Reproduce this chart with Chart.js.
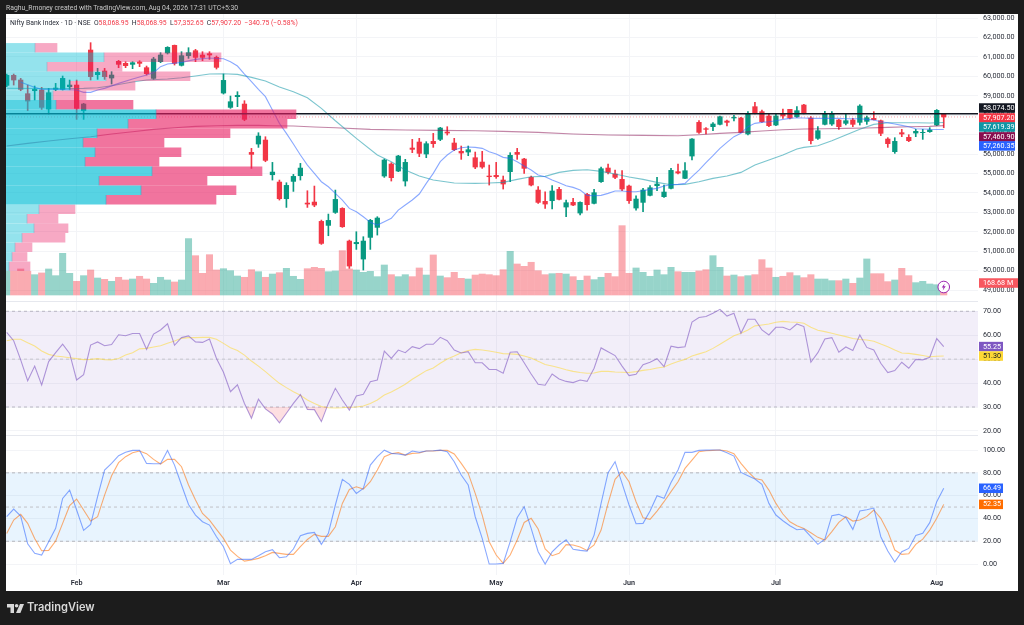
<!DOCTYPE html>
<html>
<head>
<meta charset="utf-8">
<title>Nifty Bank Index</title>
<script src="https://cdn.jsdelivr.net/npm/chart.js@4/dist/chart.umd.min.js"></script>
<style>
  html, body { margin: 0; padding: 0; background: #1c1c1c; }
  #page { position: relative; width: 1024px; height: 625px; overflow: hidden; background: #1c1c1c; font-family: Roboto, sans-serif; }
  #paper { position: absolute; left: 6px; top: 14px; width: 1012px; height: 577px; background: #fff; }
  canvas { position: absolute; left: 0; top: 0; }
  #credit { position: absolute; left: 6px; top: 3px; font-size: 6.8px; line-height: 10px; color: #c8c8c8; white-space: nowrap; }
  #legend { position: absolute; left: 10px; top: 18px; font-size: 6.8px; line-height: 11px; color: #2a2e39; white-space: nowrap; }
  #legend b { font-weight: 400; color: #f23645; }
  #brand { position: absolute; left: 27px; top: 599px; font-family: Inter, sans-serif; font-weight: 600; font-size: 11.1px; line-height: 17px; color: #d8d8d8; }
  #logo { position: absolute; left: 7px; top: 604px; }
</style>
</head>
<body>
<div id="page">
  <div id="paper"></div>
  <canvas id="main" width="1024" height="625"></canvas>
  <canvas id="profile" width="1024" height="625"></canvas>
  <div id="credit">Raghu_Rmoney created with TradingView.com, Aug 04, 2026 17:31 UTC+5:30</div>
  <div id="legend">Nifty Bank Index · 1D · NSE &nbsp;O<b>58,068.95</b> &nbsp;H<b>58,068.95</b> &nbsp;L<b>57,352.65</b> &nbsp;C<b>57,907.20</b> &nbsp;<b>−340.75 (−0.58%)</b></div>
  <svg id="logo" width="17" height="9" viewBox="0 0 17 9"><path fill="#d8d8d8" d="M0 0h7v9H3.5V3.4H0z"/><circle fill="#d8d8d8" cx="9.6" cy="1.8" r="1.8"/><path fill="#d8d8d8" d="M13 0h4l-3.6 9H9z"/></svg>
  <div id="brand">TradingView</div>
</div>
<script>
const opens = [59533,60048,59808,59104,59258,59293,58315,59327,59327,59464,59550,58229,61352,60082,60271,59911,60769,60666,60614,60734,60443,59893,60751,61198,61592,60563,61060,61318,61095,61163,60974,59138,58400,58950,58572,56084,56513,56719,54934,54557,53699,54591,54883,53476,53527,52532,52326,52995,53202,51520,51383,50594,51709,52224,54867,55485,55124,54609,56308,56617,56000,56651,56754,57132,56566,56137,56102,55810,55587,54867,54901,54661,55090,56085,55742,54798,54146,53563,53597,54180,53271,53511,52962,53923,53460,54575,55279,54970,54695,54352,53219,53511,53871,54369,53803,54232,55090,54747,55896,57629,57303,57406,57527,57698,57853,57853,57029,58436,58179,57956,57492,58093,58299,57921,58522,57853,56806,57527,57544,57750,57578,57750,57629,57681,57835,57715,56771,56119,57098,56857,57080,57098,57149,57492,58068.95];
const highs = [60116,60116,59893,59550,59499,59430,59379,59636,60014,59808,59808,58606,61730,60408,60408,60237,60820,60751,60751,60803,60528,60974,61215,61524,61609,61266,61472,61386,61266,61266,61043,60116,58984,59207,58744,56290,57096,56890,55569,54660,54522,54951,55518,54110,54351,52600,52909,54145,53236,51572,52001,51744,52636,52773,55742,55553,55931,55725,56754,56806,56634,57063,57372,57406,56806,56411,56411,56102,56137,55433,55570,54867,56068,56291,55776,54867,54318,54060,54369,54283,53631,53717,53545,53974,54180,55330,55485,55176,55141,54403,53854,54232,54369,54798,54403,55261,55485,55553,56789,57715,57355,57612,57956,57750,57990,57887,58179,58659,58264,58041,58041,58316,58299,58436,58556,57921,57406,58196,58179,57784,58093,57835,58539,57956,58179,57750,56840,56840,57269,56995,57269,57269,57355,58290,58068.95];
const lows = [59464,59550,59258,58229,58778,58297,58057,59258,59293,59327,57783,57783,59808,59842,59842,59602,60443,60443,60391,60494,60065,59842,60700,61146,60580,60528,60923,60751,60803,60871,60374,59087,58349,58435,57714,55260,56341,55603,54660,53630,53252,54076,54660,53252,53287,51348,51794,52944,52224,50113,51091,50028,51091,51829,54798,54609,55090,54352,56068,55862,55810,56342,56686,56977,56171,55725,55913,55244,55261,54403,54747,54197,54575,55725,55004,54352,53460,53202,53168,53631,52773,53340,52859,53116,53425,54541,54970,54729,54112,53460,53116,53031,53837,54112,53768,54197,54970,54729,55690,57063,57029,57200,57492,57441,57698,57098,56977,58058,57629,57406,57458,57835,57801,57887,58058,56514,56754,57492,57475,57269,57492,57406,57492,57527,57750,56943,56342,56034,56892,56634,56892,56754,57115,57458,57352.65];
const closes = [60048,59808,59327,58726,59327,58400,59156,59396,59893,59550,58349,58572,59979,60202,59979,60065,60614,60546,60700,60666,60134,60889,61095,61489,60666,61060,61215,60974,60974,61095,60460,59790,58692,59018,57783,55981,56925,55672,55071,53699,54385,54848,55277,53424,53373,51399,52583,53664,52258,50234,51452,51520,52585,52705,55690,54781,55896,55570,56240,56034,56531,56531,57338,57080,56222,56051,56222,55330,55330,54832,54832,54455,55931,55982,55261,54403,53511,53425,54095,53666,53494,53374,53511,53391,54009,55244,55055,54798,54197,53597,53683,54146,54266,54455,54043,55158,55021,55141,56771,57115,57269,57544,57921,57629,57887,57115,58058,58076,57664,57458,57956,57956,57853,58230,58127,56686,57200,58058,58093,57406,57715,57527,58470,57870,57767,57063,56531,56651,57029,56686,57166,57115,57235,58248,57907.2];
const volumes = [333,333,366,333,286,310,366,272,586,305,192,272,352,239,220,192,249,211,225,263,225,164,249,211,183,211,793,553,305,567,352,370,342,267,249,356,328,249,295,314,375,263,220,370,389,375,328,338,624,366,352,319,333,258,422,286,258,286,258,380,281,563,267,244,319,234,225,281,295,286,272,356,614,436,403,460,342,286,300,305,295,258,206,267,216,249,305,258,975,305,380,319,263,352,286,389,328,319,319,338,356,553,389,267,281,258,272,286,497,380,249,263,314,272,244,286,225,225,202,202,225,164,239,507,300,300,188,211,375,272,174,192,155,145,168.68];

const maFast = [null,null,59700,59560,59430,59327,null,59327,null,null,59293,59173,59173,59293,59379,null,59636,null,59859,null,60065,60185,60494,60631,null,60717,null,60871,null,60940,null,60906,60751,60528,60116,59722,59327,58950,58263,57577,57062,56513,55946,55432,55003,54574,54316,53973,53631,53202,53031,52773,52481,52344,52516,52688,53116,53374,53631,53940,54489,55004,55605,55948,56205,56325,56360,56342,56291,56119,56000,55828,55776,55605,55382,55176,54918,54832,54661,54523,54369,54283,54146,53871,53854,53871,53974,54095,54095,54060,54060,54112,54180,54232,54352,54421,54438,54489,54832,55176,55553,55913,56291,56600,56892,57063,57406,57578,57629,57664,57715,57784,57835,57870,57853,57835,57835,57835,57835,57835,57818,57818,57818,57784,57750,57664,57612,57544,57475,57406,57303,57289,57272,57265,57260.35];
const maMidBars = [0,5,11,13,15,18,20,23,25,27,29,31,33,35,37,39,41,43,45,47,50,53,55,57,59,61,64,67,69,71,73,75,77,79,81,83,85,87,89,91,93,95,97,99,101,103,105,107,109,111,113,114,116,118,120,122,124,126,128,130,132,134];
const maMid = [59385,59370,59379,59413,59516,59705,59808,59859,59928,60014,60116,60134,60099,59945,59756,59447,59207,58898,58349,57714,56806,55948,55605,55176,54867,54661,54506,54489,54506,54541,54695,54832,54850,55055,55158,55193,55107,54970,54815,54695,54541,54421,54438,54575,54747,54867,55055,55433,55690,55948,56257,56342,56428,56686,56977,57269,57526,57612,57612,57612,57595,57619.39];
const maSlowBars = [0,3,6,9,12,15,18,21,24,27,30,33,36,38,41,44,47,52,57,62,67,71,76,81,86,91,96,99,102,105,108,111,114,117,120,123,126,129,132,134];
const maSlow = [56410,56547,56667,56787,56890,57028,57148,57268,57354,57422,57457,57474,57474,57457,57440,57388,57354,57269,57235,57218,57200,57166,57115,57029,56977,56960,56943,56995,57063,57115,57183,57252,57286,57303,57321,57338,57372,57406,57424,57460.9];

const rsi = [61.2,57.7,49.7,41,47.1,39.2,49,52.7,56.3,52.4,41.3,43.5,55.9,57.2,55.6,56.1,60.2,59.8,60.7,60.7,54.1,60.5,62.2,64.8,55.8,59,59.7,57.2,57,58.4,50.3,44.5,36.4,39.3,31.5,25.3,33.3,29.2,27.1,23.4,27.4,31.5,35.2,29,28.9,23.9,31.5,37.8,32.9,28.7,34.6,35.3,40.6,41.3,53.4,50.3,53.8,52.7,55.2,54.4,56.2,56.2,59.1,57.7,53.8,52.6,53.1,48.5,48.5,45.7,45.7,44.1,52.9,53.1,48.5,43.8,39.5,39.1,43.8,41.7,40.7,40.2,41.3,40.7,46.2,54.7,53.1,51.5,47.1,43.1,43.7,47.7,48.7,50.2,46.9,55.4,54.8,55.2,65.5,67.4,67.8,69.2,70.8,68,69.2,60.8,66.7,66.7,62.2,60.1,63.3,63.3,62.2,64.7,63.6,48.7,52.7,58.4,59,52.9,55.1,53.6,60.1,54.9,53.8,48.3,44.4,45.2,48.7,46.2,49.9,49.7,50.8,58.6,55.25];
const rsiMa = [57.7,58.3,58.3,56.9,55.5,53.4,52,51.3,51,50.6,50.2,49.8,49.9,50.2,49.8,49.7,50.3,51.7,52.7,54.3,54.5,55.1,55.6,56.6,57.6,58.7,59,59,59.1,59.1,58.3,56.6,54.8,53.6,51.7,49.2,47.1,44.8,42.3,39.9,38.1,36.4,34.9,32.9,31.5,30.2,29.7,29.6,29.7,29.9,30,30.4,31.5,32.9,35,36.3,37.8,39.5,41.6,43.4,45.2,46.3,48.3,50.1,51.3,52.7,53.6,54.1,53.8,53.4,52.9,52.3,52.2,52,51.3,50.5,49.1,47.8,47.1,46.4,45.6,44.9,44.4,44.1,44.2,44.9,44.9,44.6,44.5,44.4,44.8,45.3,45.7,46.3,46.7,48,49,49.9,51.3,52.2,53.1,54.5,56.2,58,59.8,60.8,62.2,63.9,64.3,64.7,65.4,65.8,65.5,65.4,65,63.3,62.1,61.5,60.8,60.1,59.4,58.6,58.2,58,57.5,56.3,55.2,53.8,52.6,52.4,52,51.5,51,51.2,51.3];
const stochK = [41.5,48.2,42.1,17.8,9.4,7.9,19.6,31.3,57.6,64.9,47.4,29.5,34.8,59.1,82.5,88.3,95,98,99.7,99.7,88.3,88,88,99.7,86.8,69.3,52.3,43,37.1,34.2,24,15.2,0.3,4.1,4.1,4.1,7.3,10.8,12.6,5.6,6.4,13.2,24.9,26.9,27.8,17.3,26.9,51.8,74.3,69.9,62,66.4,86.8,94.2,99.9,97.1,96.5,95.6,99.1,98,99.1,99.4,99.9,98.5,89.8,78.1,69.3,41.5,22.5,0,0,0.6,19.6,40.6,50.3,31.3,10.8,0,10.8,16.7,21.3,12.9,12,11.4,25.4,53.2,80.1,89.8,70.8,51.8,35.4,35.7,46.5,59.9,57.6,71.6,82.5,98,98,99.7,99.9,100,100,97.7,94.7,80.4,77.5,74.6,69.9,53.2,43,38,33.6,30.1,30.7,24,17.3,21.9,42.4,43.6,40.9,30.4,46.5,47.7,49.1,24,11.4,1.8,10.8,13.7,25.1,26.9,36.3,54.7,66.49];
const stochD = [26.9,38.6,43.6,35.7,22.5,11.7,12,20.2,35.7,51.2,57,47.4,37.7,41.5,60.5,77.5,88.9,94.2,97.7,99.1,96.8,91.8,87.7,91.8,91.8,85.4,69.3,56.1,44.4,38.6,30.4,22.5,12.3,6.7,2.6,3.5,5,7.3,10.2,9.4,8.5,8.5,15.2,21.6,26,24.3,24.3,32.7,53.2,65.5,67.8,65.8,72.2,82.5,94.2,96.8,97.7,95.6,97.1,97.4,99.1,99.1,99.7,99.7,96.5,88.3,79.5,62,43,19.6,7.9,0.6,7.9,21.1,36.5,40.1,30.7,13.2,7.3,9.4,17,16.7,14.9,12,16.7,29.8,53.2,74.3,81,72.2,54.7,40.6,39.2,46.5,54.7,63.5,72.2,83.9,91.2,98.5,99.4,99.7,100,99.1,96.8,88.3,81,75.1,73.7,64.9,53.2,43.9,37.1,33.6,31.3,27.5,23.4,21.1,28.4,36.5,41.5,37.7,38.6,41.8,47.4,40.1,28.4,12.3,8.5,9.1,17.3,21.9,29.8,40.1,52.35];

const profilePrices = [61469,60980,60491,60002,59513,59024,58536,58047,57558,57069,56580,56091,55602,55113,54624,54135,53646,53157,52668,52179,51690,51201,50712,50223];
const profileUp = [29,98,41,100,64,47,50,150,122,91,77,89,79,146,93,135,100,33,21,28,16,9,6,3];
const profileDown = [22,117,75,84,65,33,77,140,159,133,81,86,74,110,108,95,110,36,31,34,43,17,15,21];

const monthBars = [10,31,50,70,89,110,133];
const monthNames = ['Feb','Mar','Apr','May','Jun','Jul','Aug'];
const priceTicks = [49000,50000,51000,52000,53000,54000,55000,56000,57000,58000,59000,60000,61000,62000,63000];
const rsiTicks = [20,30,40,50,60,70];
const stochTicks = [0,20,40,60,80,100];
const lastClose = 57907.2, prevHigh = 58074.5;

const UP = '#089981', DOWN = '#f23645';
const isUp = i => closes[i] >= opens[i];
const range = [-0.1, 138.9];

const hline = (v, axis, color, extra) => Object.assign({
  type: 'line', yAxisID: axis, borderColor: color, borderWidth: 1, pointRadius: 0,
  data: [{ x: range[0], y: v }, { x: range[1], y: v }]
}, extra);
const line = (points, axis, color, order) => ({
  type: 'line', yAxisID: axis, borderColor: color, borderWidth: 1.1, pointRadius: 0,
  tension: 0, spanGaps: true, order, data: points
});
const perBar = arr => arr.map((y, x) => ({ x, y }));
const zip = (xs, ys) => xs.map((x, i) => ({ x, y: ys[i] }));

// value tags on the right, price ones are pushed apart like the TradingView scale does
const tags = [
  { axis: 'yPrice', value: prevHigh, text: '58,074.50', bg: '#131722', fg: '#fff', w: 36, nudge: -5.7 },
  { axis: 'yPrice', value: lastClose, text: '57,907.20', bg: '#f23645', fg: '#fff', w: 36, nudge: 1 },
  { axis: 'yPrice', value: 57619.39, text: '57,619.39', bg: '#0f96a5', fg: '#fff', w: 36, nudge: 4.4 },
  { axis: 'yPrice', value: 57460.9, text: '57,460.90', bg: '#880e4f', fg: '#fff', w: 36, nudge: 11.3 },
  { axis: 'yPrice', value: 57260.35, text: '57,260.35', bg: '#2962ff', fg: '#fff', w: 36, nudge: 16.4 },
  { axis: 'yVol', value: 168.68, text: '168.68 M', bg: '#f7575f', fg: '#fff', w: 39, nudge: 0 },
  { axis: 'yRsi', value: 55.25, text: '55.25', bg: '#7e57c2', fg: '#fff', w: 24, nudge: 0 },
  { axis: 'yRsi', value: 51.3, text: '51.30', bg: '#fdd835', fg: '#131722', w: 24, nudge: 0 },
  { axis: 'yStoch', value: 66.49, text: '66.49', bg: '#2962ff', fg: '#fff', w: 24, nudge: 0 },
  { axis: 'yStoch', value: 52.35, text: '52.35', bg: '#ff6d00', fg: '#fff', w: 24, nudge: 0 }
];

const panesAndTags = {
  id: 'panesAndTags',
  beforeDatasetsDraw(chart) {
    const { ctx, chartArea, scales } = chart;
    ctx.save();
    ctx.strokeStyle = '#e6e8ee';
    ctx.lineWidth = 1;
    [scales.yRsi.top, scales.yStoch.top].forEach(y => {
      ctx.beginPath();
      ctx.moveTo(chartArea.left, Math.round(y) + 0.5);
      ctx.lineTo(chartArea.right, Math.round(y) + 0.5);
      ctx.stroke();
    });
    ctx.restore();
  },
  afterDraw(chart) {
    const { ctx, scales } = chart;
    ctx.save();
    ctx.font = '7.2px Roboto, sans-serif';
    ctx.textBaseline = 'middle';
    tags.forEach(t => {
      const y = scales[t.axis].getPixelForValue(t.value) + t.nudge;
      ctx.fillStyle = t.bg;
      ctx.fillRect(979, y - 4.75, t.w, 9.5);
      ctx.fillStyle = t.fg;
      ctx.textAlign = 'left';
      ctx.fillText(t.text, 983, y + 0.3);
    });
    // lightning badge on the last volume bar
    const bx = scales.x.getPixelForValue(134), by = 287;
    ctx.beginPath();
    ctx.arc(bx, by, 5.8, 0, Math.PI * 2);
    ctx.fillStyle = '#fff';
    ctx.fill();
    ctx.strokeStyle = '#9c27b0';
    ctx.lineWidth = 1;
    ctx.stroke();
    ctx.beginPath();
    ctx.moveTo(bx + 1, by - 3.6);
    ctx.lineTo(bx - 2, by + 0.6);
    ctx.lineTo(bx - 0.2, by + 0.6);
    ctx.lineTo(bx - 1, by + 3.6);
    ctx.lineTo(bx + 2, by - 0.8);
    ctx.lineTo(bx + 0.2, by - 0.8);
    ctx.closePath();
    ctx.fillStyle = '#9c27b0';
    ctx.fill();
    ctx.restore();
  }
};

const paneAxis = (weight, stackWeight, min, max, ticks, fmt) => ({
  type: 'linear', position: 'right', stack: 'panes', stackWeight, weight, min, max,
  border: { display: false },
  grid: { color: '#f3f4f7', drawTicks: false },
  afterBuildTicks: axis => { axis.ticks = ticks.map(value => ({ value })); },
  afterFit: axis => { axis.width = 40; axis.paddingTop = 0; axis.paddingBottom = 0; },
  ticks: { autoSkip: false, padding: 5, color: '#2a2e39', font: { family: 'Roboto, sans-serif', size: 7.2 }, callback: fmt }
});
const money = v => v.toLocaleString('en-US', { minimumFractionDigits: 2, maximumFractionDigits: 2 });

new Chart(document.getElementById('main'), {
  data: {
    datasets: [
      // oscillator bands
      hline(70, 'yRsi', 'rgba(0,0,0,0)', { order: 30, fill: { target: { value: 30 } }, backgroundColor: 'rgba(126,87,194,0.1)' }),
      hline(70, 'yRsi', '#b8b6c2', { order: 29, borderDash: [3, 3] }),
      hline(50, 'yRsi', '#c4c4cc', { order: 29, borderDash: [3, 3] }),
      hline(30, 'yRsi', '#b8b6c2', { order: 29, borderDash: [3, 3] }),
      hline(80, 'yStoch', 'rgba(0,0,0,0)', { order: 30, fill: { target: { value: 20 } }, backgroundColor: 'rgba(33,150,243,0.1)' }),
      hline(80, 'yStoch', '#b4b6bc', { order: 29, borderDash: [3, 3] }),
      hline(50, 'yStoch', '#c0c2c8', { order: 29, borderDash: [3, 3] }),
      hline(20, 'yStoch', '#b4b6bc', { order: 29, borderDash: [3, 3] }),
      // volume, wicks, bodies
      { type: 'bar', yAxisID: 'yVol', order: 20, grouped: false, barThickness: 6.4,
        backgroundColor: volumes.map((_, i) => isUp(i) ? 'rgba(8,153,129,0.42)' : 'rgba(242,54,69,0.42)'),
        data: perBar(volumes) },
      { type: 'bar', yAxisID: 'yPrice', order: 12, grouped: false, barThickness: 1,
        backgroundColor: closes.map((_, i) => isUp(i) ? UP : DOWN),
        data: closes.map((_, i) => ({ x: i, y: [lows[i], highs[i]] })) },
      { type: 'bar', yAxisID: 'yPrice', order: 11, grouped: false, barThickness: 4.6,
        backgroundColor: closes.map((_, i) => isUp(i) ? UP : DOWN),
        data: closes.map((_, i) => ({ x: i, y: [opens[i], closes[i]] })) },
      // moving averages and levels
      line(zip(maSlowBars, maSlow), 'yPrice', 'rgba(136,14,79,0.5)', 9),
      line(zip(maMidBars, maMid), 'yPrice', 'rgba(15,150,165,0.55)', 8),
      line(perBar(maFast), 'yPrice', 'rgba(41,98,255,0.55)', 7),
      hline(lastClose, 'yPrice', 'rgba(242,54,69,0.45)', { order: 6, borderDash: [1, 2] }),
      hline(prevHigh, 'yPrice', '#131722', { order: 5, borderWidth: 1.5 }),
      // rsi
      line(perBar(rsiMa), 'yRsi', 'rgba(253,216,53,0.55)', 4),
      Object.assign(line(perBar(rsi), 'yRsi', 'rgba(126,87,194,0.6)', 3), {
        fill: { target: { value: 30 }, above: 'rgba(0,0,0,0)', below: 'rgba(242,54,69,0.16)' } }),
      // stochastic
      line(perBar(stochD), 'yStoch', 'rgba(255,109,0,0.55)', 2),
      line(perBar(stochK), 'yStoch', 'rgba(41,98,255,0.55)', 1)
    ]
  },
  options: {
    responsive: false,
    animation: false,
    devicePixelRatio: 1,
    events: [],
    layout: { padding: { left: 6, top: 14, right: 6, bottom: 34 } },
    plugins: { legend: { display: false }, tooltip: { enabled: false } },
    scales: {
      x: {
        type: 'linear', min: range[0], max: range[1], offset: false,
        border: { display: false },
        grid: { color: '#f3f4f7', drawTicks: false, offset: false },
        afterBuildTicks: axis => { axis.ticks = monthBars.map(value => ({ value })); },
        afterFit: axis => { axis.height = 16; axis.paddingLeft = 0; axis.paddingRight = 0; },
        ticks: {
          autoSkip: false, maxRotation: 0, padding: 4, color: '#2a2e39',
          font: { family: 'Roboto, sans-serif', size: 7.2, weight: '600' },
          callback: (v, i) => monthNames[i]
        }
      },
      yPrice: paneAxis(1, 287, 48435, 63206, priceTicks, money),
      yRsi: paneAxis(2, 134, 18.3, 74.3, rsiTicks, v => v.toFixed(2)),
      yStoch: paneAxis(3, 140, -9.6, 113.2, stochTicks, v => v.toFixed(2)),
      yVol: { type: 'linear', display: false, min: -3937, max: 3951 }
    }
  },
  plugins: [panesAndTags]
});

// visible range volume profile sits on top of the candles, so it gets its own canvas
const inValueArea = i => i >= 6 && i <= 16;
new Chart(document.getElementById('profile'), {
  type: 'bar',
  data: {
    datasets: [
      { grouped: false, barThickness: 8.7,
        backgroundColor: profileUp.map((_, i) => inValueArea(i) ? 'rgba(0,188,212,0.66)' : 'rgba(0,188,212,0.42)'),
        data: profilePrices.map((y, i) => ({ y, x: [0, profileUp[i]] })) },
      { grouped: false, barThickness: 8.7,
        backgroundColor: profileDown.map((_, i) => inValueArea(i) ? 'rgba(233,30,99,0.62)' : 'rgba(233,30,99,0.38)'),
        data: profilePrices.map((y, i) => ({ y, x: [profileUp[i], profileUp[i] + profileDown[i]] })) }
    ]
  },
  options: {
    indexAxis: 'y',
    responsive: false,
    animation: false,
    devicePixelRatio: 1,
    events: [],
    layout: { padding: { left: 6, top: 14, right: 46, bottom: 324 } },
    plugins: { legend: { display: false }, tooltip: { enabled: false } },
    scales: {
      x: { type: 'linear', display: false, min: 0, max: 972 },
      y: { type: 'linear', display: false, offset: false, min: 48435, max: 63206 }
    }
  }
});
</script>
</body>
</html>
